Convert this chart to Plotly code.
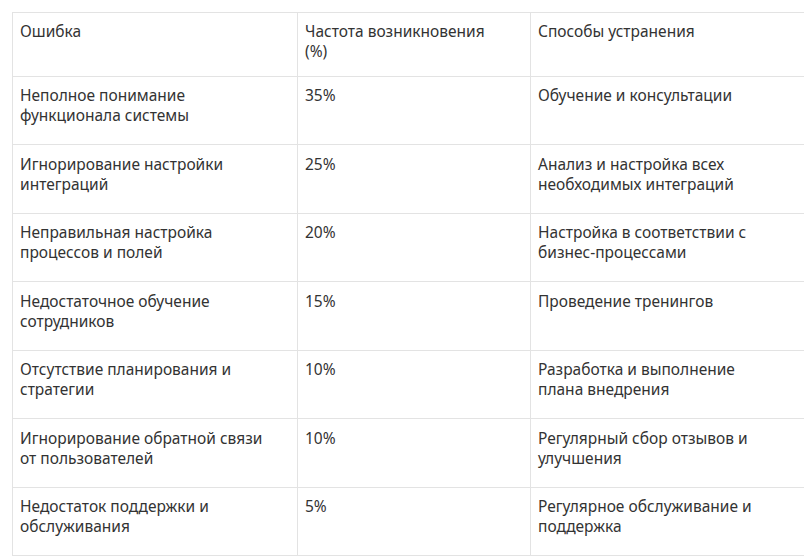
import plotly.graph_objects as go

headers = ["Ошибка", "Частота возникновения<br>(%)", "Способы устранения"]
errors = [
    "Неполное понимание<br>функционала системы",
    "Игнорирование настройки<br>интеграций",
    "Неправильная настройка<br>процессов и полей",
    "Недостаточное обучение<br>сотрудников",
    "Отсутствие планирования и<br>стратегии",
    "Игнорирование обратной связи<br>от пользователей",
    "Недостаток поддержки и<br>обслуживания",
]
freq = ["35%", "25%", "20%", "15%", "10%", "10%", "5%"]
fixes = [
    "Обучение и консультации",
    "Анализ и настройка всех<br>необходимых интеграций",
    "Настройка в соответствии с<br>бизнес-процессами",
    "Проведение тренингов",
    "Разработка и выполнение<br>плана внедрения",
    "Регулярный сбор отзывов и<br>улучшения",
    "Регулярное обслуживание и<br>поддержка",
]

def two_lines(items):
    # make every cell two lines so plotly aligns all cells the same way
    return [s if "<br>" in s else s + "<br> " for s in items]

font = dict(family="Noto Sans", size=15.5, color="#333333")
line = dict(color="#e3e3e3", width=1)

fig = go.Figure(go.Table(
    columnwidth=[285, 233, 284],
    header=dict(values=two_lines(headers), align="left", font=font, fill_color="white",
                line=line, height=64),
    cells=dict(values=[two_lines(errors), two_lines(freq), two_lines(fixes)],
               align="left", font=font, fill_color="white", line=line, height=68.5),
    domain=dict(x=[4/812, 806/812], y=[0, 555/559]),
))
fig.update_layout(width=812, height=559, margin=dict(l=0, r=0, t=0, b=0),
                  paper_bgcolor="white")
fig.write_html("out.html")
